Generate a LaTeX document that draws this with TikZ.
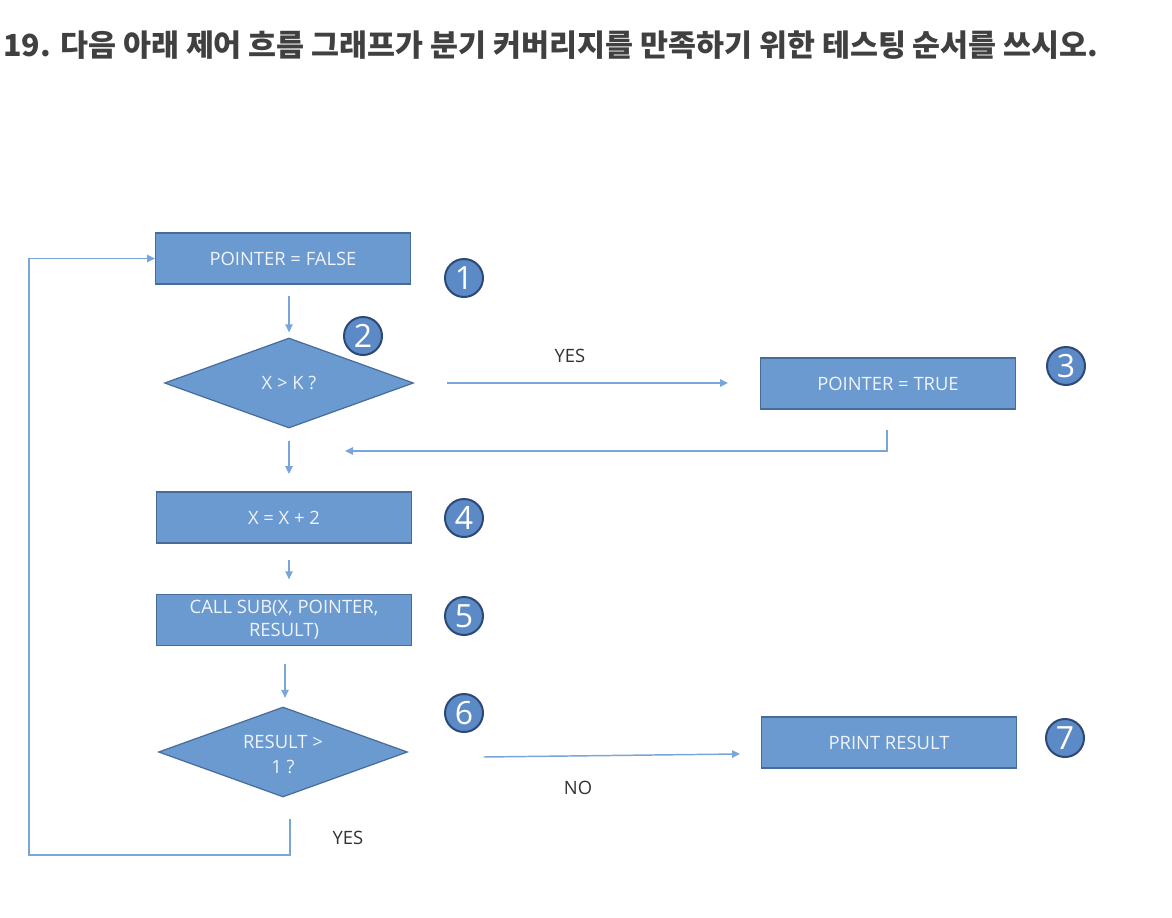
\documentclass[tikz,border=0pt]{standalone}
\usepackage{fontspec}
\setmainfont{Open Sans}
\newfontfamily\kr{Noto Sans CJK KR}
\usetikzlibrary{shapes.geometric,arrows.meta}
\definecolor{boxfill}{RGB}{106,154,208}
\definecolor{boxline}{RGB}{70,108,156}
\definecolor{linec}{RGB}{120,165,218}
\definecolor{numfill}{RGB}{92,138,198}
\definecolor{numline}{RGB}{44,72,118}
\definecolor{titlec}{RGB}{64,64,64}
\definecolor{labelc}{RGB}{50,50,50}
\definecolor{boxtext}{RGB}{240,244,250}
\begin{document}
\begin{tikzpicture}[x=0.75pt,y=-0.75pt,
  box/.style={draw=boxline, fill=boxfill, line width=0.9pt, minimum width=191pt, minimum height=38.25pt, inner sep=0pt, text=boxtext, font=\fontsize{13.8}{17.5}\selectfont, align=center},
  dia/.style={diamond, draw=boxline, fill=boxfill, line width=0.9pt, minimum width=186.75pt, minimum height=67.5pt, inner sep=0pt},
  diatext/.style={text=boxtext, font=\fontsize{13.8}{18.5}\selectfont, align=center, inner sep=0pt},
  num/.style={circle, draw=numline, fill=numfill, line width=1.5pt, minimum size=28.5pt, inner sep=0pt, text=white, font=\fontsize{24}{24}\selectfont},
  lbl/.style={text=labelc, font=\fontsize{13.8}{16}\selectfont},
  conn/.style={draw=linec, line width=1.1pt},
  arr/.style={conn, -{Triangle[length=6pt,width=5.5pt]}}
]
\useasboundingbox (0,0) rectangle (1172,918);
\node[anchor=base west, font=\kr\bfseries\fontsize{22.8}{26}\selectfont, text=titlec, inner sep=0pt] (title) at (3,56) {19. 다음 아래 제어 흐름 그래프가 분기 커버리지를 만족하기 위한 테스팅 순서를 쓰시오.};

\node[box] (b1) at (283,258.5) {POINTER = FALSE};
\node[num] (n1) at (464,278) {1};
\node[num] (n2) at (363,336) {2};
\node[dia, label={[diatext]center:{X > K ?}}] (d1) at (289,383) {};
\node[box] (b3) at (888,383.5) {POINTER = TRUE};
\node[num] (n3) at (1066,366) {3};
\node[box] (b4) at (284,517.5) {X = X + 2};
\node[num] (n4) at (464,518) {4};
\node[box] (b5) at (284,620) {CALL SUB(X, POINTER,\\RESULT)};
\node[num] (n5) at (464,616) {5};
\node[num] (n6) at (464,713) {6};
\node[dia, label={[diatext, yshift=-2pt]center:{RESULT >\\1 ?}}] (d2) at (283,752) {};
\node[box] (b7) at (889,742.5) {PRINT RESULT};
\node[num] (n7) at (1065,738) {7};

\node[lbl] (yes1) at (570,356) {YES};
\node[lbl] (yes2) at (348,838) {YES};
\node[lbl] (no) at (578,788) {NO};

% connectors
\draw[arr, shorten >=3.75pt] ([yshift=-8.6pt]b1.south -| d1.north) -- (d1.north);
\draw[arr, shorten <=24.75pt, shorten >=24pt] (d1.east) -- (d1.east -| b3.west);
\coordinate (r3) at ([xshift=-0.75pt,yshift=-15pt]b3.south);
\coordinate (m1) at (345,451);
\draw[arr] (r3) |- (m1);
\draw[arr, shorten <=9pt, shorten >=13pt] (d1.south) -- (d1.south |- b4.north);
\draw[arr, shorten <=12.4pt, shorten >=10.9pt] (b4.south -| d1.south) -- (b5.north -| d1.south);
\draw[arr, shorten <=13.1pt, shorten >=6.4pt] ([xshift=1.5pt]b5.south -| d2.north) -- ([xshift=1.5pt]d2.north);
\draw[arr] ([xshift=56.6pt,yshift=-3.75pt]d2.east) -- ([xshift=-15.75pt,yshift=-8.6pt]b7.west);
\coordinate (loop) at (29,855);
\draw[arr] ([xshift=5.25pt,yshift=-16.1pt]d2.south) |- (loop) |- (b1.west);
\end{tikzpicture}
\end{document}
